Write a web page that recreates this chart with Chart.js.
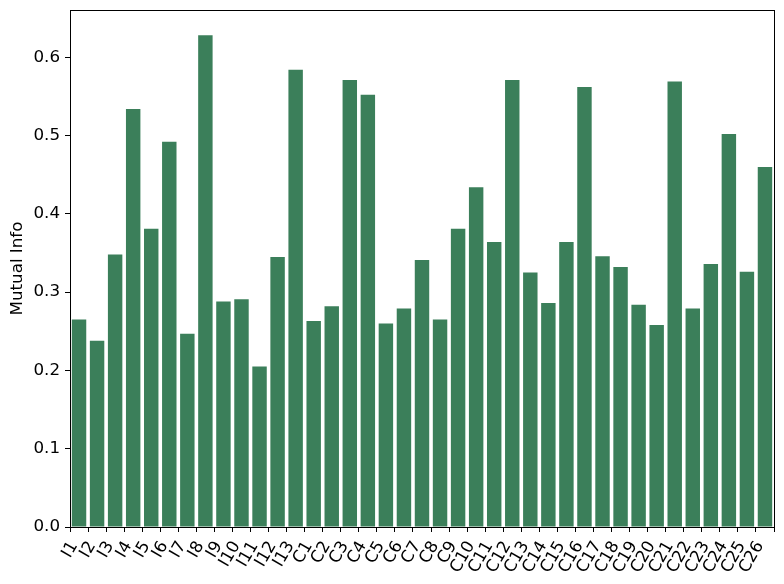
<!DOCTYPE html>
<html>
<head>
<meta charset="utf-8">
<script src="https://cdn.jsdelivr.net/npm/chart.js@4.4.0/dist/chart.umd.min.js"></script>
<style>
  body { margin: 0; background: white; }
  #wrap { width: 784px; height: 584px; }
</style>
</head>
<body>
<div id="wrap"><canvas id="myChart" width="784" height="584"></canvas></div>
<script>
// feature names along the x axis
const labels = [
    'I1', 'I2', 'I3', 'I4', 'I5', 'I6', 'I7', 'I8', 'I9', 'I10', 'I11', 'I12', 'I13',
    'C1', 'C2', 'C3', 'C4', 'C5', 'C6', 'C7', 'C8', 'C9', 'C10', 'C11', 'C12', 'C13',
    'C14', 'C15', 'C16', 'C17', 'C18', 'C19', 'C20', 'C21', 'C22', 'C23', 'C24', 'C25', 'C26'
];

// mutual information per feature
const mutualInfo = [
    0.265, 0.238, 0.348, 0.534, 0.381, 0.492, 0.247, 0.628, 0.288, 0.291, 0.205, 0.345, 0.584,
    0.263, 0.282, 0.571, 0.552, 0.260, 0.279, 0.341, 0.265, 0.381, 0.434, 0.364, 0.571, 0.325,
    0.286, 0.364, 0.562, 0.346, 0.332, 0.284, 0.258, 0.569, 0.279, 0.336, 0.502, 0.326, 0.460
];

const yTicks = [0.0, 0.1, 0.2, 0.3, 0.4, 0.5, 0.6];

const barColor = '#3b7f5a';
const font = { family: 'DejaVu Sans', size: 16.7 };

// matplotlib style box round the axes
const frame = {
    id: 'frame',
    afterDraw: (chart) => {
        const {ctx, chartArea: a} = chart;
        ctx.save();
        ctx.strokeStyle = 'black';
        ctx.lineWidth = 1;
        ctx.strokeRect(a.left + 0.5, a.top + 0.5, a.right - a.left, a.bottom - a.top);
        ctx.restore();
    }
};

const config = {
    type: 'bar',
    data: {
        labels: labels,
        datasets: [{
            label: 'Mutual Info',
            data: mutualInfo,
            backgroundColor: barColor,
            borderWidth: 0,
            barPercentage: 0.8,
            categoryPercentage: 1.0
        }]
    },
    options: {
        responsive: false,
        animation: false,
        layout: { padding: { top: 10, right: 10, left: 0, bottom: 0 } },
        plugins: {
            legend: { display: false },
            tooltip: { enabled: false }
        },
        scales: {
            x: {
                offset: true,
                grid: { display: true, drawOnChartArea: false, tickLength: 5, color: 'black' },
                border: { display: false },
                ticks: {
                    color: 'black', font: font,
                    minRotation: 60, maxRotation: 60,
                    autoSkip: false, padding: 6, labelOffset: -5
                },
                afterFit: (scale) => {
                    scale.height = 57;
                    scale.paddingLeft = 0;
                    scale.paddingRight = 0;
                }
            },
            y: {
                min: 0,
                max: 0.6604,
                grid: { display: true, drawOnChartArea: false, tickLength: 5, color: 'black' },
                border: { display: false },
                afterBuildTicks: (scale) => {
                    scale.ticks = yTicks.map(v => ({ value: v }));
                },
                ticks: {
                    color: 'black', font: font, padding: 5,
                    callback: (v) => v.toFixed(1)
                },
                title: {
                    display: true, text: 'Mutual Info',
                    color: 'black', font: font, padding: { top: 8, bottom: 0 }
                },
                afterFit: (scale) => {
                    scale.width = 70;
                    scale.paddingTop = 0;
                    scale.paddingBottom = 0;
                }
            }
        }
    },
    plugins: [frame]
};

const myChart = new Chart(document.getElementById('myChart'), config);
</script>
</body>
</html>
